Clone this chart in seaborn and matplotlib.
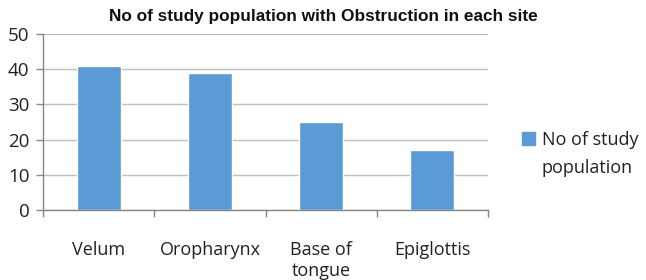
import numpy as np
import pandas as pd
import matplotlib
matplotlib.use("Agg")
import matplotlib.pyplot as plt
import matplotlib.patches as mpatches
import seaborn as sns

# data
sites = ["Velum", "Oropharynx", "Base of\ntongue", "Epiglottis"]
counts = [41, 39, 25, 17]
series_lines = ["No of study", "population"]
title = "No of study population with Obstruction in each site"

df = pd.DataFrame({"site": sites, "count": counts})
bar_color = "#5B9BD5"

sns.set_theme(style="white")
plt.rcParams["font.family"] = ["Open Sans", "DejaVu Sans"]

fig = plt.figure(figsize=(6.46, 2.8), dpi=100)
ax = fig.add_axes([0.067, 0.25, 0.688, 0.629])

sns.barplot(data=df, x="site", y="count", color=bar_color, width=0.4,
            saturation=1, ax=ax)

ax.set_ylim(0, 50)
ax.set_xlim(-0.5, len(sites) - 0.5)
ax.set_yticks(np.arange(0, 51, 10))
ax.yaxis.grid(True, color="#BFBFBF", linewidth=1)
ax.set_axisbelow(True)
ax.set_xlabel("")
ax.set_ylabel("")

# category boundary ticks like the spreadsheet style
ax.set_xticks(np.arange(-0.5, len(sites), 1.0), minor=True)
ax.tick_params(axis="x", which="minor", length=5, width=1, color="#868686", bottom=True)
ax.tick_params(axis="x", which="major", length=0, pad=22, labelsize=13, labelcolor="#222222")
ax.tick_params(axis="y", length=5, width=1, color="#868686", left=True, pad=5,
               labelsize=13.5, labelcolor="#222222")
for lab in ax.get_xticklabels():
    lab.set_linespacing(1.25)

for side in ["top", "right"]:
    ax.spines[side].set_visible(False)
for side in ["left", "bottom"]:
    ax.spines[side].set_color("#868686")
    ax.spines[side].set_linewidth(1)

ax.set_title(title, fontsize=12.4, fontweight="bold", family=["Liberation Sans", "DejaVu Sans"],
             pad=9, x=0.63, color="#111111")

handles = [mpatches.Patch(color=bar_color), mpatches.Patch(alpha=0)]
leg = ax.legend(handles, series_lines, loc="center left", bbox_to_anchor=(1.04, 0.318),
                frameon=False, fontsize=13, handlelength=0.72, handleheight=0.72,
                handletextpad=0.4, labelspacing=0.55, labelcolor="#222222")

fig.savefig("out.png", dpi=100)
